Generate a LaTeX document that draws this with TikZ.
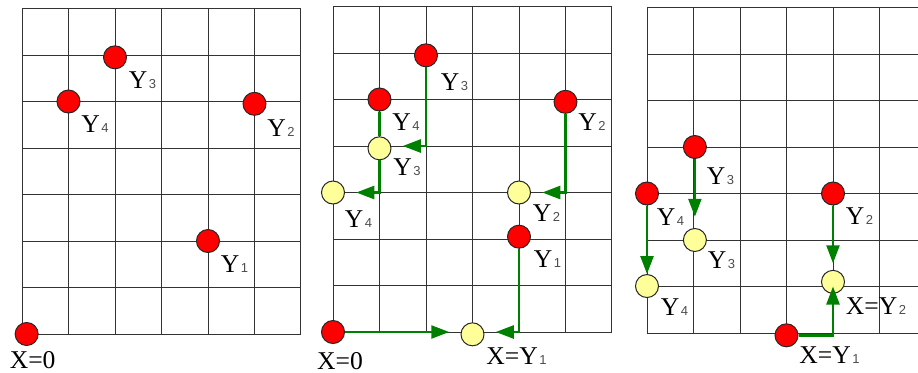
\documentclass[tikz,border=0pt]{standalone}
\usepackage{fontspec}
\setmainfont{Liberation Serif}
\newfontfamily\digitfont{Liberation Sans}
\usetikzlibrary{positioning,arrows.meta}

\definecolor{ptred}{RGB}{255,0,0}
\definecolor{ptyellow}{RGB}{255,255,153}
\definecolor{pathgreen}{RGB}{0,128,0}

% small index digit after Y
\newcommand{\ix}[1]{\kern0.8pt{\digitfont\fontsize{6.5}{7}\selectfont\color{black!70}#1}}

\begin{document}
\begin{tikzpicture}[
  x=23.25pt, y=23.25pt,
  cell/.style={black!80, line width=0.5pt, step=1},
  redpt/.style={circle, draw=black!85, fill=ptred, minimum size=11.5pt,
                inner sep=0pt, line width=0.5pt},
  yelpt/.style={redpt, fill=ptyellow},
  lbl/.style={inner sep=0pt, font=\fontsize{12.8}{14}\selectfont},
  gline/.style={draw=pathgreen, line width=1.2pt},
  garr/.style={gline, -{Triangle[length=9pt,width=6.5pt]}}]
\useasboundingbox (0,0) rectangle (459pt,186pt);

% left: points before the move
\begin{scope}[shift={(11pt,19pt)}]
\draw[cell] (0,0) grid (6,7);
\node[redpt] (p1x) at (0.1,0) {};
\node[redpt] (p1y1) at (4,2) {};
\node[redpt] (p1y2) at (5,4.95) {};
\node[redpt] (p1y3) at (2,5.95) {};
\node[redpt] (p1y4) at (1,5) {};
\node[lbl, below=2.5pt of p1x, xshift=3pt] {X=0};
\node[lbl, below right=2.7pt and 2pt of p1y1] {Y\ix{1}};
\node[lbl, below right=3.5pt and 2pt of p1y2] {Y\ix{2}};
\node[lbl, below right=2.7pt and 2.5pt of p1y3] {Y\ix{3}};
\node[lbl, below right=2.7pt and 2pt of p1y4] {Y\ix{4}};
\end{scope}

% middle: moves along the grid
\begin{scope}[shift={(166.5pt,20pt)}]
\draw[cell] (0,0) grid (6,7);
\node[redpt] (p2x) at (0,0) {};
\node[redpt] (p2y1) at (4,2.05) {};
\node[redpt] (p2y2) at (5,4.95) {};
\node[redpt] (p2y3) at (2,5.95) {};
\node[redpt] (p2y4) at (1,5) {};
\node[yelpt] (p2z1) at (3,-0.05) {};
\node[yelpt] (p2z2) at (4,3) {};
\node[yelpt] (p2z3) at (1,3.95) {};
\node[yelpt] (p2z4) at (0,3) {};
\coordinate (p2t0) at (2.5,0);
\coordinate (p2t1) at (3.5,0);
\coordinate (p2t2) at (4.5,3);
\coordinate (p2t3) at (1.5,4);
\coordinate (p2t4) at (0.5,3);
\draw[garr] (p2x) -- (p2t0);
\draw[garr] (p2y1) |- (p2t1);
\draw[garr] (p2y2) |- (p2t2);
\draw[garr] (p2y3) |- (p2t3);
\draw[gline] (p2y4) -- (p2z3);
\draw[garr] (p2z3) |- (p2t4);
\node[lbl, below=4pt of p2x, xshift=3.5pt] {X=0};
\node[lbl, below right=2.5pt and 2.5pt of p2z1] {X=Y\ix{1}};
\node[lbl, below right=2.5pt and 3pt of p2y1] {Y\ix{1}};
\node[lbl, below right=1.5pt and 2pt of p2y2] {Y\ix{2}};
\node[lbl, below right=1.5pt and 2.5pt of p2z2] {Y\ix{2}};
\node[lbl, below right=5pt and 3pt of p2y3] {Y\ix{3}};
\node[lbl, below right=1pt and 2.5pt of p2z3] {Y\ix{3}};
\node[lbl, below right=2.5pt and 2pt of p2y4] {Y\ix{4}};
\node[lbl, below right=4.5pt and 1.5pt of p2z4] {Y\ix{4}};
\end{scope}

% right: moves straight down
\begin{scope}[shift={(323.5pt,19.5pt)}]
\draw[cell] (0,0) grid (5.83,7);
\node[redpt] (p3y1) at (3,-0.05) {};
\node[redpt] (p3y2) at (4,3) {};
\node[redpt] (p3y3) at (1.03,4) {};
\node[redpt] (p3y4) at (0,3) {};
\node[yelpt] (p3z2) at (4,1.1) {};
\node[yelpt] (p3z3) at (1.03,2.0) {};
\node[yelpt] (p3z4) at (0,1.01) {};
\coordinate (p3t1) at (4,1);
\coordinate (p3t2) at (4,1.5);
\coordinate (p3t3) at (1.03,2.5);
\draw[garr] (p3y2) -- (p3t2);
\draw[garr] (p3y3) -- (p3t3);
\draw[garr] (p3y4) -- (p3z4);
\draw[garr] (p3y1) -| (p3t1);
\node[lbl, below right=1.5pt and 2pt of p3y1] {X=Y\ix{1}};
\node[lbl, below right=3.5pt and 2pt of p3z2] {X=Y\ix{2}};
\node[lbl, below right=2.5pt and 2pt of p3y2] {Y\ix{2}};
\node[lbl, below right=6pt and 1.5pt of p3y3] {Y\ix{3}};
\node[lbl, below right=1.5pt and 2pt of p3z3] {Y\ix{3}};
\node[lbl, below right=3pt and 0.5pt of p3y4] {Y\ix{4}};
\node[lbl, below right=2pt and 2.5pt of p3z4] {Y\ix{4}};
\end{scope}
\end{tikzpicture}
\end{document}
